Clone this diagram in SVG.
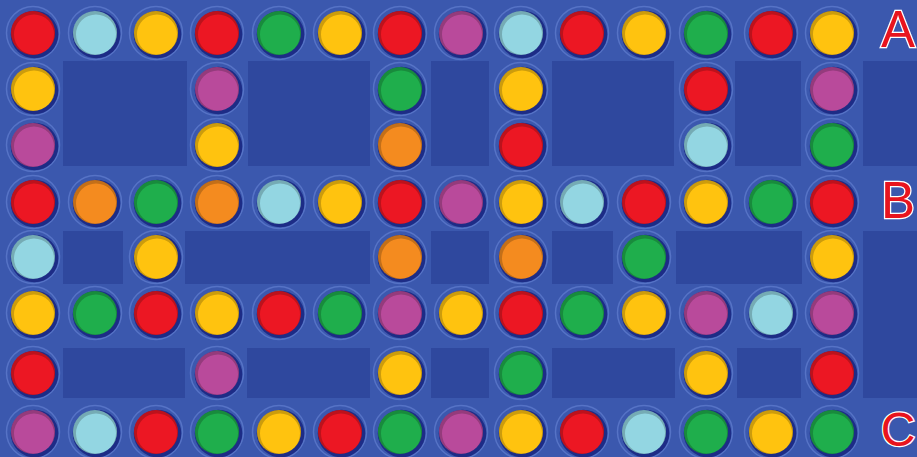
<svg xmlns="http://www.w3.org/2000/svg" width="917" height="457" viewBox="0 0 917 457">
<style>
.bg{fill:#3b58ae}
.pad{fill:#2f489e}
.halo{fill:none;stroke:#5673c6;stroke-width:1.5}
.rim{fill:#1d2c86}
.shade{fill:#000000;fill-opacity:0.2;fill-rule:evenodd}
.red{fill:#ec1723}
.cya{fill:#93d6e2}
.yel{fill:#ffc30f}
.grn{fill:#1fae4c}
.mag{fill:#b94a9b}
.org{fill:#f48b1f}
.lbl{font-family:"Liberation Sans",Arial,sans-serif;font-size:51px;fill:#e8141e;stroke:#ffffff;stroke-width:2.5;paint-order:stroke;text-anchor:middle}
.lblc{font-size:48px}
</style>
<defs>
<g id="cup"><circle class="halo" r="26.5"/><circle class="rim" cx="1.5" cy="1.5" r="23.8"/></g>
<g id="dot"><circle r="22"/><path class="shade" d="M-22,0a22,22 0 1,0 44,0a22,22 0 1,0 -44,0ZM-19,1.5a20,20 0 1,0 40,0a20,20 0 1,0 -40,0Z"/></g>
</defs>
<rect class="bg" x="0" y="0" width="917" height="457"/>
<g id="pads">
<rect class="pad" x="63" y="61" width="124" height="105"/>
<rect class="pad" x="248" y="61" width="122" height="105"/>
<rect class="pad" x="431" y="61" width="58" height="105"/>
<rect class="pad" x="552" y="61" width="122" height="105"/>
<rect class="pad" x="735" y="61" width="66" height="105"/>
<rect class="pad" x="863" y="61" width="54" height="105"/>
<rect class="pad" x="63" y="231" width="60" height="53"/>
<rect class="pad" x="185" y="231" width="185" height="53"/>
<rect class="pad" x="431" y="231" width="58" height="53"/>
<rect class="pad" x="552" y="231" width="61" height="53"/>
<rect class="pad" x="676" y="231" width="126" height="53"/>
<rect class="pad" x="863" y="231" width="54" height="167"/>
<rect class="pad" x="63" y="348" width="122" height="50"/>
<rect class="pad" x="247" y="348" width="123" height="50"/>
<rect class="pad" x="431" y="348" width="58" height="50"/>
<rect class="pad" x="552" y="348" width="123" height="50"/>
<rect class="pad" x="737" y="348" width="64" height="50"/>
</g>
<g id="row0">
<g id="n0-0" class="red" transform="translate(33,33)"><use href="#cup"/><use href="#dot"/></g>
<g id="n0-1" class="cya" transform="translate(95,33)"><use href="#cup"/><use href="#dot"/></g>
<g id="n0-2" class="yel" transform="translate(156,33)"><use href="#cup"/><use href="#dot"/></g>
<g id="n0-3" class="red" transform="translate(217,33)"><use href="#cup"/><use href="#dot"/></g>
<g id="n0-4" class="grn" transform="translate(279,33)"><use href="#cup"/><use href="#dot"/></g>
<g id="n0-5" class="yel" transform="translate(340,33)"><use href="#cup"/><use href="#dot"/></g>
<g id="n0-6" class="red" transform="translate(400,33)"><use href="#cup"/><use href="#dot"/></g>
<g id="n0-7" class="mag" transform="translate(461,33)"><use href="#cup"/><use href="#dot"/></g>
<g id="n0-8" class="cya" transform="translate(521,33)"><use href="#cup"/><use href="#dot"/></g>
<g id="n0-9" class="red" transform="translate(582,33)"><use href="#cup"/><use href="#dot"/></g>
<g id="n0-10" class="yel" transform="translate(644,33)"><use href="#cup"/><use href="#dot"/></g>
<g id="n0-11" class="grn" transform="translate(706,33)"><use href="#cup"/><use href="#dot"/></g>
<g id="n0-12" class="red" transform="translate(771,33)"><use href="#cup"/><use href="#dot"/></g>
<g id="n0-13" class="yel" transform="translate(832,33)"><use href="#cup"/><use href="#dot"/></g>
</g>
<g id="row1">
<g id="n1-0" class="yel" transform="translate(33,89)"><use href="#cup"/><use href="#dot"/></g>
<g id="n1-3" class="mag" transform="translate(217,89)"><use href="#cup"/><use href="#dot"/></g>
<g id="n1-6" class="grn" transform="translate(400,89)"><use href="#cup"/><use href="#dot"/></g>
<g id="n1-8" class="yel" transform="translate(521,89)"><use href="#cup"/><use href="#dot"/></g>
<g id="n1-11" class="red" transform="translate(706,89)"><use href="#cup"/><use href="#dot"/></g>
<g id="n1-13" class="mag" transform="translate(832,89)"><use href="#cup"/><use href="#dot"/></g>
</g>
<g id="row2">
<g id="n2-0" class="mag" transform="translate(33,145)"><use href="#cup"/><use href="#dot"/></g>
<g id="n2-3" class="yel" transform="translate(217,145)"><use href="#cup"/><use href="#dot"/></g>
<g id="n2-6" class="org" transform="translate(400,145)"><use href="#cup"/><use href="#dot"/></g>
<g id="n2-8" class="red" transform="translate(521,145)"><use href="#cup"/><use href="#dot"/></g>
<g id="n2-11" class="cya" transform="translate(706,145)"><use href="#cup"/><use href="#dot"/></g>
<g id="n2-13" class="grn" transform="translate(832,145)"><use href="#cup"/><use href="#dot"/></g>
</g>
<g id="row3">
<g id="n3-0" class="red" transform="translate(33,202)"><use href="#cup"/><use href="#dot"/></g>
<g id="n3-1" class="org" transform="translate(95,202)"><use href="#cup"/><use href="#dot"/></g>
<g id="n3-2" class="grn" transform="translate(156,202)"><use href="#cup"/><use href="#dot"/></g>
<g id="n3-3" class="org" transform="translate(217,202)"><use href="#cup"/><use href="#dot"/></g>
<g id="n3-4" class="cya" transform="translate(279,202)"><use href="#cup"/><use href="#dot"/></g>
<g id="n3-5" class="yel" transform="translate(340,202)"><use href="#cup"/><use href="#dot"/></g>
<g id="n3-6" class="red" transform="translate(400,202)"><use href="#cup"/><use href="#dot"/></g>
<g id="n3-7" class="mag" transform="translate(461,202)"><use href="#cup"/><use href="#dot"/></g>
<g id="n3-8" class="yel" transform="translate(521,202)"><use href="#cup"/><use href="#dot"/></g>
<g id="n3-9" class="cya" transform="translate(582,202)"><use href="#cup"/><use href="#dot"/></g>
<g id="n3-10" class="red" transform="translate(644,202)"><use href="#cup"/><use href="#dot"/></g>
<g id="n3-11" class="yel" transform="translate(706,202)"><use href="#cup"/><use href="#dot"/></g>
<g id="n3-12" class="grn" transform="translate(771,202)"><use href="#cup"/><use href="#dot"/></g>
<g id="n3-13" class="red" transform="translate(832,202)"><use href="#cup"/><use href="#dot"/></g>
</g>
<g id="row4">
<g id="n4-0" class="cya" transform="translate(33,257)"><use href="#cup"/><use href="#dot"/></g>
<g id="n4-2" class="yel" transform="translate(156,257)"><use href="#cup"/><use href="#dot"/></g>
<g id="n4-6" class="org" transform="translate(400,257)"><use href="#cup"/><use href="#dot"/></g>
<g id="n4-8" class="org" transform="translate(521,257)"><use href="#cup"/><use href="#dot"/></g>
<g id="n4-10" class="grn" transform="translate(644,257)"><use href="#cup"/><use href="#dot"/></g>
<g id="n4-13" class="yel" transform="translate(832,257)"><use href="#cup"/><use href="#dot"/></g>
</g>
<g id="row5">
<g id="n5-0" class="yel" transform="translate(33,313)"><use href="#cup"/><use href="#dot"/></g>
<g id="n5-1" class="grn" transform="translate(95,313)"><use href="#cup"/><use href="#dot"/></g>
<g id="n5-2" class="red" transform="translate(156,313)"><use href="#cup"/><use href="#dot"/></g>
<g id="n5-3" class="yel" transform="translate(217,313)"><use href="#cup"/><use href="#dot"/></g>
<g id="n5-4" class="red" transform="translate(279,313)"><use href="#cup"/><use href="#dot"/></g>
<g id="n5-5" class="grn" transform="translate(340,313)"><use href="#cup"/><use href="#dot"/></g>
<g id="n5-6" class="mag" transform="translate(400,313)"><use href="#cup"/><use href="#dot"/></g>
<g id="n5-7" class="yel" transform="translate(461,313)"><use href="#cup"/><use href="#dot"/></g>
<g id="n5-8" class="red" transform="translate(521,313)"><use href="#cup"/><use href="#dot"/></g>
<g id="n5-9" class="grn" transform="translate(582,313)"><use href="#cup"/><use href="#dot"/></g>
<g id="n5-10" class="yel" transform="translate(644,313)"><use href="#cup"/><use href="#dot"/></g>
<g id="n5-11" class="mag" transform="translate(706,313)"><use href="#cup"/><use href="#dot"/></g>
<g id="n5-12" class="cya" transform="translate(771,313)"><use href="#cup"/><use href="#dot"/></g>
<g id="n5-13" class="mag" transform="translate(832,313)"><use href="#cup"/><use href="#dot"/></g>
</g>
<g id="row6">
<g id="n6-0" class="red" transform="translate(33,373)"><use href="#cup"/><use href="#dot"/></g>
<g id="n6-3" class="mag" transform="translate(217,373)"><use href="#cup"/><use href="#dot"/></g>
<g id="n6-6" class="yel" transform="translate(400,373)"><use href="#cup"/><use href="#dot"/></g>
<g id="n6-8" class="grn" transform="translate(521,373)"><use href="#cup"/><use href="#dot"/></g>
<g id="n6-11" class="yel" transform="translate(706,373)"><use href="#cup"/><use href="#dot"/></g>
<g id="n6-13" class="red" transform="translate(832,373)"><use href="#cup"/><use href="#dot"/></g>
</g>
<g id="row7">
<g id="n7-0" class="mag" transform="translate(33,432)"><use href="#cup"/><use href="#dot"/></g>
<g id="n7-1" class="cya" transform="translate(95,432)"><use href="#cup"/><use href="#dot"/></g>
<g id="n7-2" class="red" transform="translate(156,432)"><use href="#cup"/><use href="#dot"/></g>
<g id="n7-3" class="grn" transform="translate(217,432)"><use href="#cup"/><use href="#dot"/></g>
<g id="n7-4" class="yel" transform="translate(279,432)"><use href="#cup"/><use href="#dot"/></g>
<g id="n7-5" class="red" transform="translate(340,432)"><use href="#cup"/><use href="#dot"/></g>
<g id="n7-6" class="grn" transform="translate(400,432)"><use href="#cup"/><use href="#dot"/></g>
<g id="n7-7" class="mag" transform="translate(461,432)"><use href="#cup"/><use href="#dot"/></g>
<g id="n7-8" class="yel" transform="translate(521,432)"><use href="#cup"/><use href="#dot"/></g>
<g id="n7-9" class="red" transform="translate(582,432)"><use href="#cup"/><use href="#dot"/></g>
<g id="n7-10" class="cya" transform="translate(644,432)"><use href="#cup"/><use href="#dot"/></g>
<g id="n7-11" class="grn" transform="translate(706,432)"><use href="#cup"/><use href="#dot"/></g>
<g id="n7-12" class="yel" transform="translate(771,432)"><use href="#cup"/><use href="#dot"/></g>
<g id="n7-13" class="grn" transform="translate(832,432)"><use href="#cup"/><use href="#dot"/></g>
</g>
<g id="labels">
<text class="lbl" x="898" y="47">A</text>
<text class="lbl" x="898" y="218">B</text>
<text class="lbl lblc" x="898" y="446">C</text>
</g>
</svg>
